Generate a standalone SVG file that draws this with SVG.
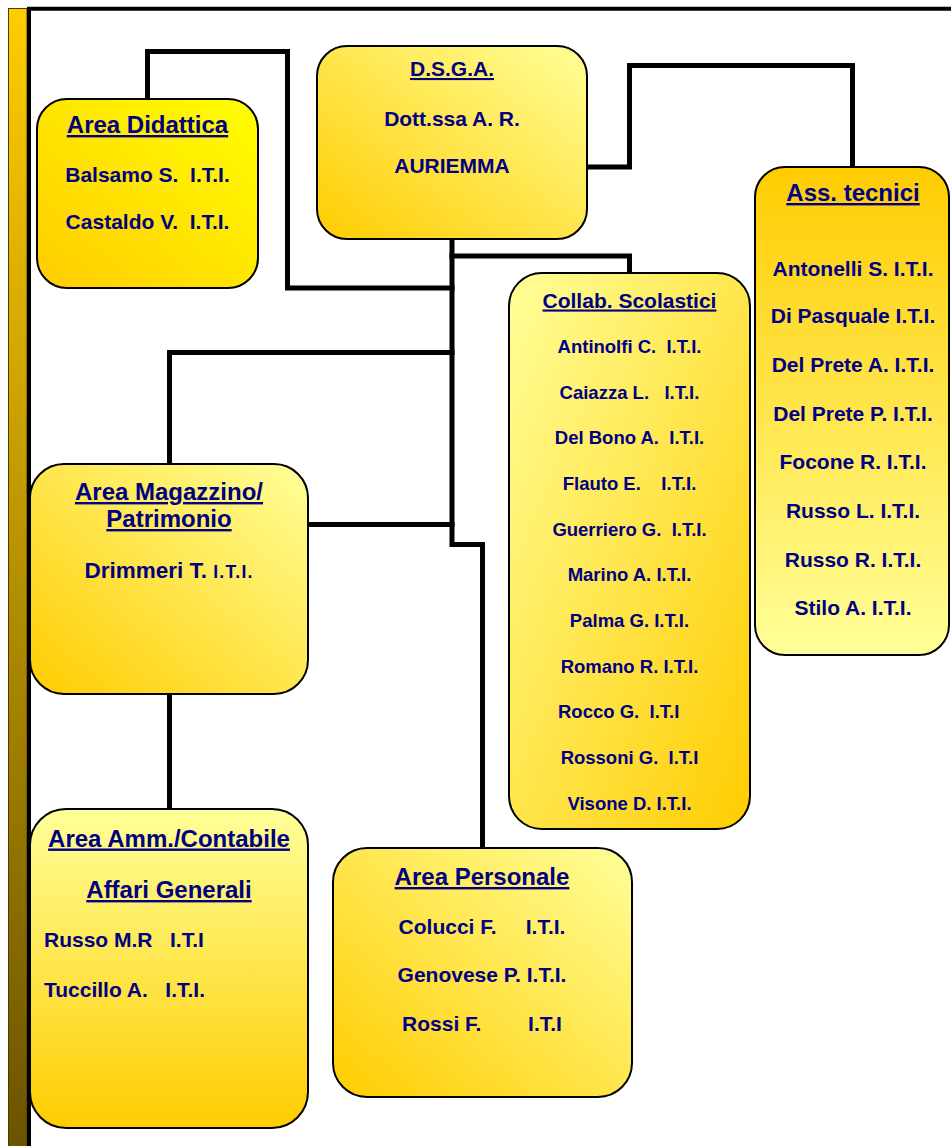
<svg xmlns="http://www.w3.org/2000/svg" width="951" height="1146" viewBox="0 0 951 1146">
<style>
.box{stroke:#000;stroke-width:2}
.conn{fill:none;stroke:#000;stroke-width:5;stroke-linejoin:miter;stroke-linecap:square}
text{font-family:"Liberation Sans",Arial,sans-serif;font-weight:bold;fill:#000080;text-anchor:middle}
.t{font-size:24px;text-decoration:underline}
.b{font-size:21px}
.c{font-size:18.5px}
.ct{font-size:21px;text-decoration:underline}
.l{text-anchor:start}
</style>
<defs>
<linearGradient id="gBar" x1="0" y1="0" x2="0" y2="1"><stop offset="0" stop-color="#FFCC00"/><stop offset="1" stop-color="#6B5300"/></linearGradient>
<linearGradient id="gDid" x1="1" y1="0" x2="0" y2="1"><stop offset="0" stop-color="#FFFF00"/><stop offset="1" stop-color="#FFCC00"/></linearGradient>
<linearGradient id="gTR" x1="1" y1="0" x2="0" y2="1"><stop offset="0" stop-color="#FFFF99"/><stop offset="1" stop-color="#FFCC00"/></linearGradient>
<linearGradient id="gTL" x1="0" y1="0" x2="1" y2="1"><stop offset="0" stop-color="#FFFF99"/><stop offset="1" stop-color="#FFCC00"/></linearGradient>
<linearGradient id="gUp" x1="0" y1="0" x2="0" y2="1"><stop offset="0" stop-color="#FFCC00"/><stop offset="1" stop-color="#FFFF99"/></linearGradient>
<linearGradient id="gDown" x1="0" y1="0" x2="0" y2="1"><stop offset="0" stop-color="#FFFF99"/><stop offset="1" stop-color="#FFCC00"/></linearGradient>
</defs>
<rect width="951" height="1146" fill="#fff"/>
<g id="frame">
<rect x="8.5" y="8.5" width="18.5" height="1140" fill="url(#gBar)" stroke="#4a3c00" stroke-width="1"/>
<path d="M29,1146 V8.7 H951" fill="none" stroke="#000" stroke-width="4"/>
</g>
<g id="connectors">
<path class="conn" d="M147.5,99 V51.5 H287.5 V288 H452"/>
<path class="conn" d="M587,167 H629.5 V65.5 H852.5 V167"/>
<path class="conn" d="M452,239 V544.5 H482.5 V848"/>
<path class="conn" d="M452,256 H629.5 V273"/>
<path class="conn" d="M452,352.5 H169.5 V464"/>
<path class="conn" d="M308,524.5 H452"/>
<path class="conn" d="M169.5,694 V809"/>
</g>
<g id="area-didattica">
<rect class="box" x="37" y="99" width="221" height="189" rx="30" fill="url(#gDid)"/>
<text class="t" x="147.5" y="133">Area Didattica</text>
<text class="b" x="147.5" y="182" xml:space="preserve">Balsamo S.  I.T.I.</text>
<text class="b" x="147.5" y="229" xml:space="preserve">Castaldo V.  I.T.I.</text>
</g>
<g id="dsga">
<rect class="box" x="317" y="46" width="270" height="193" rx="30" fill="url(#gTR)"/>
<text class="ct" x="452" y="76">D.S.G.A.</text>
<text class="b" x="452" y="126">Dott.ssa A. R.</text>
<text class="b" x="452" y="173">AURIEMMA</text>
</g>
<g id="ass-tecnici">
<rect class="box" x="755" y="167" width="194" height="488" rx="30" fill="url(#gUp)"/>
<text class="t" x="853" y="201">Ass. tecnici</text>
<text class="b" x="853" y="276">Antonelli S. I.T.I.</text>
<text class="b" x="853" y="322.7">Di Pasquale I.T.I.</text>
<text class="b" x="853" y="372">Del Prete A. I.T.I.</text>
<text class="b" x="853" y="420.7">Del Prete P. I.T.I.</text>
<text class="b" x="853" y="469">Focone R. I.T.I.</text>
<text class="b" x="853" y="518">Russo L. I.T.I.</text>
<text class="b" x="853" y="567">Russo R. I.T.I.</text>
<text class="b" x="853" y="615">Stilo A. I.T.I.</text>
</g>
<g id="collab-scolastici">
<rect class="box" x="509" y="273" width="241" height="556" rx="33" fill="url(#gTL)"/>
<text class="ct" x="629.5" y="307.5">Collab. Scolastici</text>
<text class="c" x="629.5" y="353" xml:space="preserve">Antinolfi C.  I.T.I.</text>
<text class="c" x="629.5" y="398.5" xml:space="preserve">Caiazza L.   I.T.I.</text>
<text class="c" x="629.5" y="444" xml:space="preserve">Del Bono A.  I.T.I.</text>
<text class="c" x="629.5" y="490" xml:space="preserve">Flauto E.    I.T.I.</text>
<text class="c" x="629.5" y="535.5" xml:space="preserve">Guerriero G.  I.T.I.</text>
<text class="c" x="629.5" y="581">Marino A. I.T.I.</text>
<text class="c" x="629.5" y="627">Palma G. I.T.I.</text>
<text class="c" x="629.5" y="672.5">Romano R. I.T.I.</text>
<text class="c l" x="558" y="718" xml:space="preserve">Rocco G.  I.T.I</text>
<text class="c" x="629.5" y="764" xml:space="preserve">Rossoni G.  I.T.I</text>
<text class="c" x="629.5" y="809.5">Visone D. I.T.I.</text>
</g>
<g id="area-magazzino">
<rect class="box" x="30" y="464" width="278" height="230" rx="34" fill="url(#gTR)"/>
<text class="t" x="169" y="500">Area Magazzino/</text>
<text class="t" x="169" y="527">Patrimonio</text>
<text x="169" y="578" style="font-size:22.5px">Drimmeri T. <tspan style="font-size:17.5px;letter-spacing:1.2px">I.T.I.</tspan></text>
</g>
<g id="area-amm">
<rect class="box" x="30" y="809" width="278" height="319" rx="36" fill="url(#gDown)"/>
<text class="t" x="169" y="846.5">Area Amm./Contabile</text>
<text class="t" x="169" y="898">Affari Generali</text>
<text class="b l" x="44" y="947" xml:space="preserve">Russo M.R   I.T.I</text>
<text class="b l" x="44" y="996.5" xml:space="preserve">Tuccillo A.   I.T.I.</text>
</g>
<g id="area-personale">
<rect class="box" x="333" y="848" width="299" height="249" rx="34" fill="url(#gTR)"/>
<text class="t" x="482" y="885">Area Personale</text>
<text class="b" x="482" y="934" xml:space="preserve">Colucci F.     I.T.I.</text>
<text class="b" x="482" y="982" xml:space="preserve">Genovese P. I.T.I.</text>
<text class="b" x="482" y="1031" xml:space="preserve">Rossi F.        I.T.I</text>
</g>
</svg>
